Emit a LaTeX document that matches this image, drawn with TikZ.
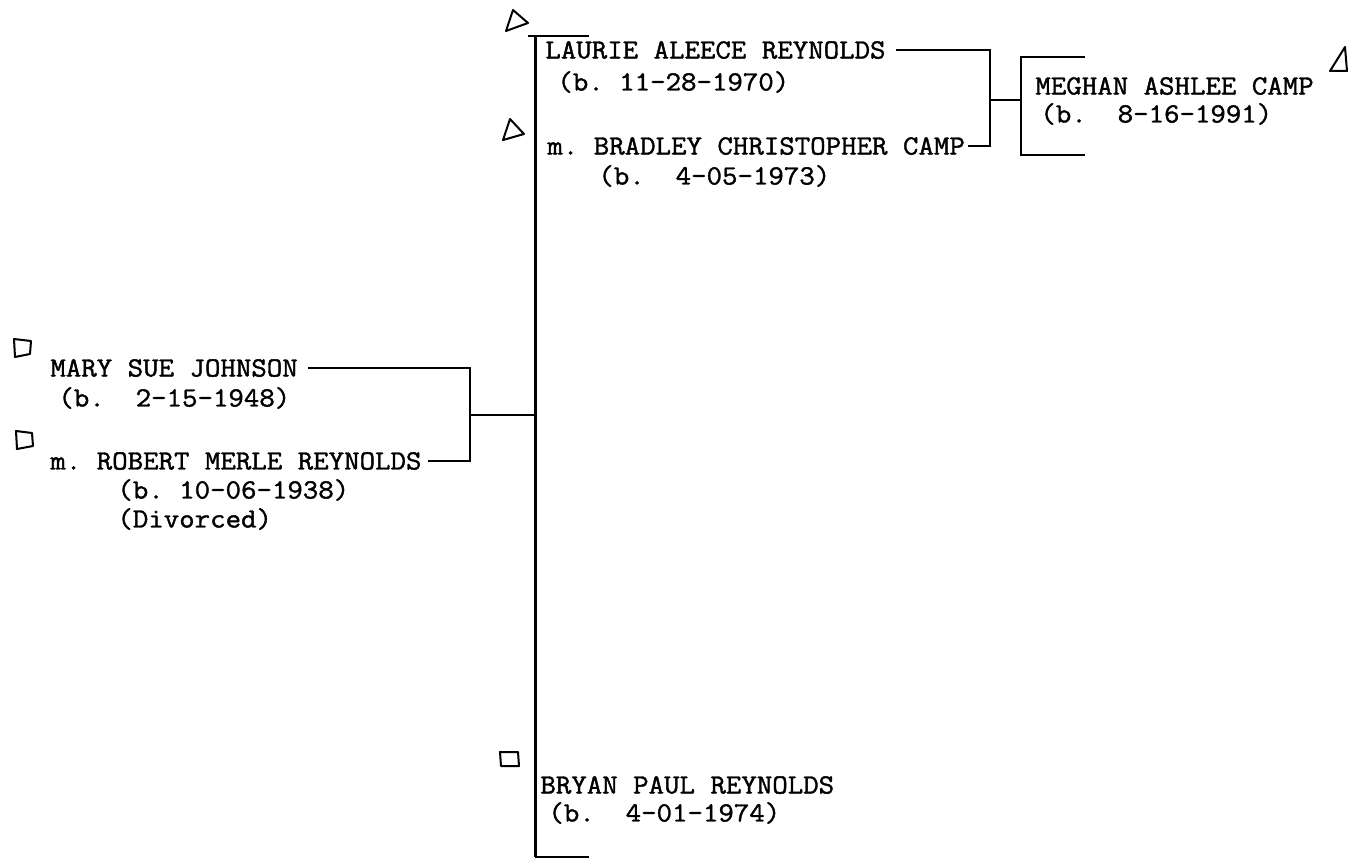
\documentclass[tikz,border=0pt]{standalone}
\usepackage{fontspec}
\newfontfamily\tw[FakeStretch=1.08,FakeBold=1.4]{Latin Modern Mono}
\begin{document}
\begin{tikzpicture}[x=0.5pt,y=-0.5pt,
  person/.style={anchor=west,inner sep=0pt,font=\tw\fontsize{13.9}{16}\selectfont},
  link/.style={line width=1.25pt},
  spine/.style={line width=1.5pt},
  sym/.style={line width=1pt,line join=round}]
\useasboundingbox (0,0) rectangle (1356,861);
% people
\node[person] (laurie)   at (545,50)  {LAURIE ALEECE REYNOLDS};
\node[person] (laurieb)  at (557,82)  {(b.\ 11-28-1970)};
\node[person] (bradley)  at (547,146) {m.\ BRADLEY CHRISTOPHER CAMP};
\node[person] (bradleyb) at (598,176) {(b.\ \ 4-05-1973)};
\node[person] (meghan)   at (1035,86) {MEGHAN ASHLEE CAMP};
\node[person] (meghanb)  at (1040,114) {(b.\ \ 8-16-1991)};
\node[person] (mary)     at (50,368)  {MARY SUE JOHNSON};
\node[person] (maryb)    at (58,398)  {(b.\ \ 2-15-1948)};
\node[person] (robert)   at (50,461)  {m.\ ROBERT MERLE REYNOLDS};
\node[person] (robertb)  at (117,490) {(b.\ 10-06-1938)};
\node[person] (divorced) at (117,519) {(Divorced)};
\node[person] (bryan)    at (540,785) {BRYAN PAUL REYNOLDS};
\node[person] (bryanb)   at (548,813) {(b.\ \ 4-01-1974)};
% coordinates
\coordinate (stop) at (535,36);
\coordinate (sbot) at (535,857);
\coordinate (pbr) at (470,415);
\coordinate (lbr) at (990,100);
\coordinate (mbr) at (1021,100);
\coordinate (mgT) at (1021,57);
\coordinate (mgB) at (1021,155);
% spine and ticks
\draw[spine] (stop) -- (sbot);
\draw[link] ([xshift=-3.5pt]stop) -- ([xshift=27pt]stop);
\draw[link] (sbot) -- ([xshift=27pt]sbot);
% parents
\draw[link] ([xshift=5pt]mary.east) -- (pbr |- mary.east) -- (pbr |- robert.east) -- ([xshift=3pt]robert.east);
\draw[link] (pbr) -- (pbr -| stop);
% Laurie & Bradley
\draw[link] ([xshift=5pt]laurie.east) -- (lbr |- laurie.east) -- (lbr |- bradley.east) -- ([xshift=1.5pt]bradley.east);
\draw[link] (lbr) -- (mbr);
\draw[link] ([xshift=32pt]mgT) -- (mgT) -- (mgB) -- ([xshift=32pt]mgB);
% symbols: triangles (female) and squares (male)
\draw[sym] (506,31) -- (513,10) -- (528,23) -- cycle;
\draw[sym] (503,140) -- (510,119) -- (524,134) -- cycle;
\draw[sym] (1330,71) -- (1345,47) -- (1347,71) -- cycle;
\draw[sym] (14,339) -- (31,341) -- (30,354) -- (15,357) -- cycle;
\draw[sym] (16,431) -- (32,433) -- (33,446) -- (17,449) -- cycle;
\draw[sym] (500,752) -- (518,752) -- (519,766) -- (501,766) -- cycle;
\end{tikzpicture}
\end{document}
